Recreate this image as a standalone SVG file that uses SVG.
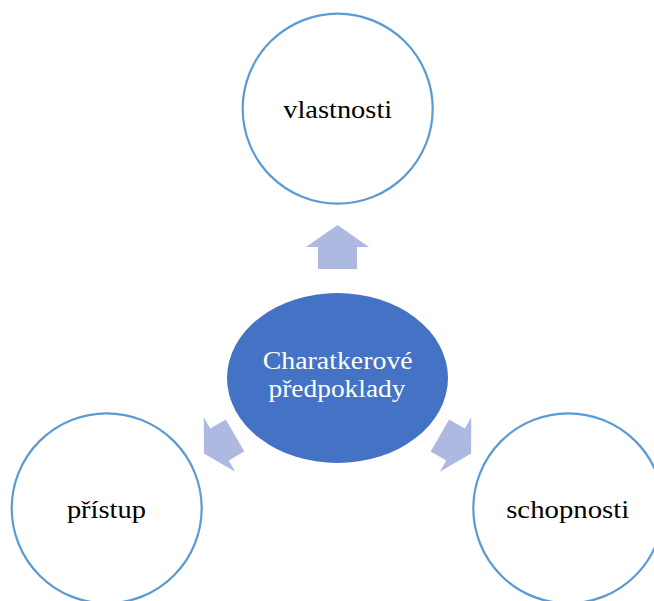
<svg xmlns="http://www.w3.org/2000/svg" width="654" height="601" viewBox="0 0 654 601">
<defs>
<style>
.c{fill:#ffffff;stroke:#5b9bd5;stroke-width:2.2}
.t{font-family:"Liberation Serif","Times New Roman",serif;font-size:25.5px;text-anchor:middle;fill:#000}
.w{fill:#ffffff}
.a{fill:#adb9e0}
</style>
<path id="arr" d="M0,-22 L31.5,0 L19.5,0 L19.5,22 L-19.5,22 L-19.5,0 L-31.5,0 Z"/>
<path id="arr2" d="M0,-18 L31.5,0 L18.5,0 L18.5,18 L-18.5,18 L-18.5,0 L-31.5,0 Z"/>
</defs>
<rect width="654" height="601" fill="#ffffff"/>
<g id="connectors">
<use href="#arr" class="a" transform="translate(337.5,247)"/>
<use href="#arr2" class="a" transform="translate(219.5,444.5) rotate(-120)"/>
<use href="#arr2" class="a" transform="translate(455.5,444.5) rotate(120)"/>
</g>
<g id="center">
<ellipse cx="337.5" cy="378" rx="110.5" ry="85" fill="#4472c4"/>
<text class="t w" x="337.7" y="369" textLength="150" lengthAdjust="spacingAndGlyphs">Charatkerové</text>
<text class="t w" x="337" y="396.5" textLength="137" lengthAdjust="spacingAndGlyphs">předpoklady</text>
</g>
<g id="vlastnosti">
<circle class="c" cx="337.7" cy="108.7" r="95"/>
<text class="t" x="337.7" y="118.3" textLength="109" lengthAdjust="spacingAndGlyphs">vlastnosti</text>
</g>
<g id="pristup">
<circle class="c" cx="106.7" cy="508.3" r="95"/>
<text class="t" x="106.4" y="518.3" textLength="79" lengthAdjust="spacingAndGlyphs">přístup</text>
</g>
<g id="schopnosti">
<circle class="c" cx="568.3" cy="508.3" r="95"/>
<text class="t" x="567.7" y="517.5" textLength="123" lengthAdjust="spacingAndGlyphs">schopnosti</text>
</g>
</svg>
